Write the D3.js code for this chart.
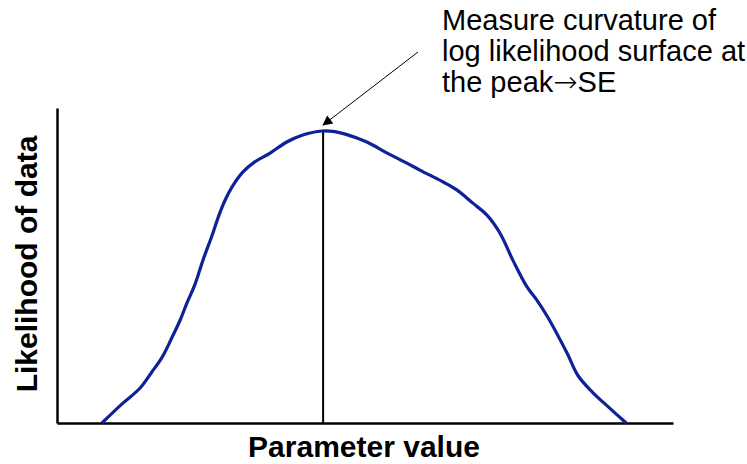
<!DOCTYPE html>
<html>
<head>
<meta charset="utf-8">
<script src="https://cdn.jsdelivr.net/npm/d3@7"></script>
<style>
    body { margin: 0; background: #fff; }
    svg { display: block; }
</style>
</head>
<body>
<div class="section"></div>
<script>
// parameter value (x) and likelihood of data (y)
var paramValues = [7.3, 10.7, 13.5, 15.4, 17.1, 18.7, 20.0, 21.1, 22.4, 23.7, 25.2, 26.3, 27.3, 28.4, 30.2, 32.1, 34.6, 37.3, 39.9, 43.0,
    45.1, 46.8, 50.3, 53.6, 56.8, 58.9, 62.7, 64.9, 67.5, 69.8, 71.9, 74.0, 76.3, 77.9, 79.7, 82.8, 84.6, 86.9, 89.5, 92.4];
var likelihood = [0, 0.063, 0.111, 0.162, 0.210, 0.273, 0.327, 0.381, 0.440, 0.517, 0.597, 0.660, 0.708, 0.749, 0.797, 0.829, 0.857, 0.892, 0.914, 0.927,
    0.925, 0.917, 0.892, 0.857, 0.825, 0.803, 0.765, 0.740, 0.698, 0.660, 0.603, 0.517, 0.432, 0.390, 0.335, 0.222, 0.150, 0.098, 0.051, 0];
var peakParam = 43.2;
var peakLikelihood = 0.927;
var xLabel = "Parameter value";
var yLabel = "Likelihood of data";
var noteLines = ["Measure curvature of", "log likelihood surface at"];
var noteLast = ["the peak", "\u2192", "SE"];

var width = 747;   //画布宽度
var height = 464;  //画布高度
var plotLeft = 57, plotRight = 673, plotTop = 108, plotBottom = 423;

var svg = d3.select(".section")
    .append("svg")
    .attr("width", width)
    .attr("height", height);

var x = d3.scaleLinear().domain([0, 100]).range([plotLeft, plotRight]);
var y = d3.scaleLinear().domain([0, 1]).range([plotBottom, plotTop]);

// axes: plain lines, no ticks
svg.append("g")
    .attr("transform", "translate(0," + plotBottom + ")")
    .call(d3.axisBottom(x).ticks(0).tickSize(0).tickFormat(""))
    .select(".domain").attr("stroke", "#000").attr("stroke-width", 2.5);
svg.append("g")
    .attr("transform", "translate(" + plotLeft + ",0)")
    .call(d3.axisLeft(y).ticks(0).tickSize(0).tickFormat(""))
    .select(".domain").attr("stroke", "#000").attr("stroke-width", 2.5);

// peak marker
svg.append("line")
    .attr("x1", x(peakParam)).attr("x2", x(peakParam))
    .attr("y1", y(0)).attr("y2", y(peakLikelihood))
    .attr("stroke", "#000").attr("stroke-width", 2);

// likelihood curve
var line = d3.line()
    .x(function(d, i){ return x(paramValues[i]); })
    .y(function(d){ return y(d); })
    .curve(d3.curveCatmullRom);
svg.append("path")
    .attr("d", line(likelihood))
    .attr("fill", "none")
    .attr("stroke", "#0f2196")
    .attr("stroke-width", 3.2)
    .attr("stroke-linejoin", "round");

// arrow to the peak
svg.append("defs").append("marker")
    .attr("id", "arr")
    .attr("viewBox", "0 0 10 10")
    .attr("refX", 9).attr("refY", 5)
    .attr("markerWidth", 12).attr("markerHeight", 10)
    .attr("markerUnits", "userSpaceOnUse")
    .attr("orient", "auto")
    .append("path").attr("d", "M0,0 L10,5 L0,10 Z").attr("fill", "#000");
svg.append("line")
    .attr("x1", 418).attr("y1", 52)
    .attr("x2", x(peakParam)).attr("y2", y(peakLikelihood) - 6)
    .attr("stroke", "#000").attr("stroke-width", 1)
    .attr("marker-end", "url(#arr)");

// annotation text
var note = svg.append("text")
    .attr("x", 442).attr("y", 30)
    .style("font-family", "Liberation Sans, Arial, sans-serif")
    .style("font-size", "29px");
note.selectAll("tspan.ln").data(noteLines).enter()
    .append("tspan")
    .attr("class", "ln")
    .attr("x", 442)
    .attr("dy", function(d, i){ return i == 0 ? 0 : 31; })
    .text(function(d){ return d; });
note.append("tspan").attr("x", 442).attr("dy", 31).text(noteLast[0]);
note.append("tspan")
    .style("font-family", "DejaVu Sans, sans-serif")
    .style("font-size", "29px")
    .style("font-weight", "200")
    .text(noteLast[1]);
note.append("tspan").text(noteLast[2]);

// axis titles
svg.append("text")
    .attr("x", 364).attr("y", 457)
    .attr("text-anchor", "middle")
    .style("font-family", "Liberation Sans, Arial, sans-serif")
    .style("font-weight", "bold")
    .style("font-size", "30px")
    .text(xLabel);
svg.append("text")
    .attr("transform", "translate(37," + 264 + ") rotate(-90)")
    .attr("text-anchor", "middle")
    .style("font-family", "Liberation Sans, Arial, sans-serif")
    .style("font-weight", "bold")
    .style("font-size", "30px")
    .text(yLabel);
</script>
</body>
</html>
